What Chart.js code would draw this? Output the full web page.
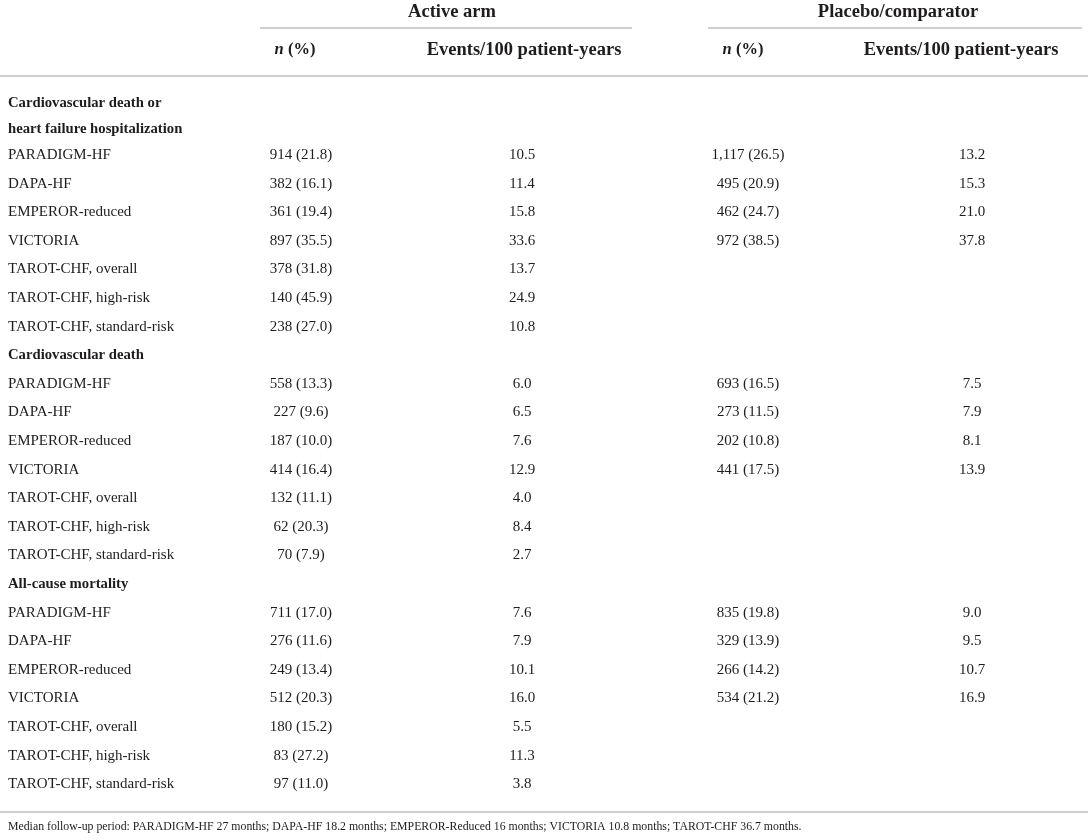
<!DOCTYPE html>
<html>
<head>
<meta charset="utf-8">
<title>Event rates by trial</title>
<script src="https://cdn.jsdelivr.net/npm/chart.js@4.4.1/dist/chart.umd.min.js"></script>
<style>
  html, body { margin: 0; padding: 0; background: #fff; }
  #wrap { width: 1088px; height: 840px; }
</style>
</head>
<body>
<div id="wrap"><canvas id="tableChart" width="1088" height="840"></canvas></div>
<script>
const trials = ['PARADIGM-HF', 'DAPA-HF', 'EMPEROR-reduced', 'VICTORIA',
                'TAROT-CHF, overall', 'TAROT-CHF, high-risk', 'TAROT-CHF, standard-risk'];

const sectionTitles = [
    ['Cardiovascular death or', 'heart failure hospitalization'],
    ['Cardiovascular death'],
    ['All-cause mortality']
];

// cardiovascular death or HF hospitalization
const activeN1 = [914, 382, 361, 897, 378, 140, 238];
const activePct1 = [21.8, 16.1, 19.4, 35.5, 31.8, 45.9, 27.0];
const activeRate1 = [10.5, 11.4, 15.8, 33.6, 13.7, 24.9, 10.8];
const placeboN1 = [1117, 495, 462, 972];
const placeboPct1 = [26.5, 20.9, 24.7, 38.5];
const placeboRate1 = [13.2, 15.3, 21.0, 37.8];

// cardiovascular death
const activeN2 = [558, 227, 187, 414, 132, 62, 70];
const activePct2 = [13.3, 9.6, 10.0, 16.4, 11.1, 20.3, 7.9];
const activeRate2 = [6.0, 6.5, 7.6, 12.9, 4.0, 8.4, 2.7];
const placeboN2 = [693, 273, 202, 441];
const placeboPct2 = [16.5, 11.5, 10.8, 17.5];
const placeboRate2 = [7.5, 7.9, 8.1, 13.9];

// all-cause mortality
const activeN3 = [711, 276, 249, 512, 180, 83, 97];
const activePct3 = [17.0, 11.6, 13.4, 20.3, 15.2, 27.2, 11.0];
const activeRate3 = [7.6, 7.9, 10.1, 16.0, 5.5, 11.3, 3.8];
const placeboN3 = [835, 329, 266, 534];
const placeboPct3 = [19.8, 13.9, 14.2, 21.2];
const placeboRate3 = [9.0, 9.5, 10.7, 16.9];

const groupHeaders = ['Active arm', 'Placebo/comparator'];
const rateHeader = 'Events/100 patient-years';
const footnote = 'Median follow-up period: PARADIGM-HF 27 months; DAPA-HF 18.2 months; ' +
    'EMPEROR-Reduced 16 months; VICTORIA 10.8 months; TAROT-CHF 36.7 months.';

// --- layout (x in canvas px, y in row units) ---
const FONT = '"Liberation Serif", "DejaVu Serif", serif';
const TEXT = '#1f1c1d';
const RULE = '#cfcfcf';
const colX = { label: 8, aN: 301, aR: 522, pN: 748, pR: 972 };
const Y_GROUP = -3.0, Y_SUB = -1.67, Y_RULE1 = -2.44, Y_RULE2 = -0.76;

function fmtN(n, p) {
    return n.toLocaleString('en-US') + ' (' + p.toFixed(1) + ')';
}

// build the row list
const sectionData = [
    [activeN1, activePct1, activeRate1, placeboN1, placeboPct1, placeboRate1],
    [activeN2, activePct2, activeRate2, placeboN2, placeboPct2, placeboRate2],
    [activeN3, activePct3, activeRate3, placeboN3, placeboPct3, placeboRate3]
];
const labelPts = [], aNPts = [], aRPts = [], pNPts = [], pRPts = [];
let row = 0;
sectionData.forEach(function(sec, s) {
    const lines = sectionTitles[s];
    lines.forEach(function(t, k) {
        // wrapped titles sit a little tighter than regular rows
        const yv = lines.length > 1 ? row + 0.18 - k * 0.08 : row;
        labelPts.push({ x: colX.label, y: yv, text: t, bold: true });
        row++;
    });
    trials.forEach(function(name, i) {
        labelPts.push({ x: colX.label, y: row, text: name });
        aNPts.push({ x: colX.aN, y: row, text: fmtN(sec[0][i], sec[1][i]) });
        aRPts.push({ x: colX.aR, y: row, text: sec[2][i].toFixed(1) });
        if (i < sec[3].length) {
            pNPts.push({ x: colX.pN, y: row, text: fmtN(sec[3][i], sec[4][i]) });
            pRPts.push({ x: colX.pR, y: row, text: sec[5][i].toFixed(1) });
        }
        row++;
    });
});
const lastRow = row - 1;

function ds(pts, align) {
    return { data: pts, align: align, pointRadius: 0, pointHoverRadius: 0, showLine: false };
}

// draws the cell texts at the points the scales placed, plus header and rules
const tablePlugin = {
    id: 'tablePlugin',
    afterDatasetsDraw(chart) {
        const ctx = chart.ctx;
        const xs = chart.scales.x, ys = chart.scales.y;
        ctx.save();
        ctx.fillStyle = TEXT;
        ctx.textBaseline = 'middle';

        chart.data.datasets.forEach(function(d, di) {
            const meta = chart.getDatasetMeta(di);
            ctx.textAlign = d.align;
            meta.data.forEach(function(el, i) {
                const p = d.data[i];
                ctx.font = p.bold ? 'bold 14.7px ' + FONT : '15px ' + FONT;
                ctx.fillText(p.text, el.x, el.y);
            });
        });

        // rules
        ctx.strokeStyle = RULE;
        ctx.lineWidth = 2;
        function rule(x0, x1, yv) {
            const y = Math.round(ys.getPixelForValue(yv));
            ctx.beginPath();
            ctx.moveTo(xs.getPixelForValue(x0), y);
            ctx.lineTo(xs.getPixelForValue(x1), y);
            ctx.stroke();
        }
        rule(260, 632, Y_RULE1);
        rule(708, 1082, Y_RULE1);
        rule(0, 1088, Y_RULE2);
        rule(0, 1088, lastRow + 0.97);

        // group headers
        ctx.font = 'bold 18.5px ' + FONT;
        ctx.textAlign = 'center';
        ctx.fillText(groupHeaders[0], xs.getPixelForValue(452), ys.getPixelForValue(Y_GROUP));
        ctx.fillText(groupHeaders[1], xs.getPixelForValue(898), ys.getPixelForValue(Y_GROUP));

        // sub headers
        const ySub = ys.getPixelForValue(Y_SUB);
        ctx.fillText(rateHeader, xs.getPixelForValue(524), ySub);
        ctx.fillText(rateHeader, xs.getPixelForValue(961), ySub);
        [295, 743].forEach(function(cx) {
            ctx.font = 'bold italic 16.5px ' + FONT;
            const wN = ctx.measureText('n').width;
            ctx.font = 'bold 16.5px ' + FONT;
            const wP = ctx.measureText(' (%)').width;
            const x0 = xs.getPixelForValue(cx) - (wN + wP) / 2;
            ctx.textAlign = 'left';
            ctx.font = 'bold italic 16.5px ' + FONT;
            ctx.fillText('n', x0, ySub);
            ctx.font = 'bold 16.5px ' + FONT;
            ctx.fillText(' (%)', x0 + wN, ySub);
        });

        // footnote
        ctx.textAlign = 'left';
        ctx.font = '11.8px ' + FONT;
        ctx.fillText(footnote, xs.getPixelForValue(8), ys.getPixelForValue(lastRow + 1.5));
        ctx.restore();
    }
};

const ctx = document.getElementById('tableChart').getContext('2d');
const chart = new Chart(ctx, {
    type: 'scatter',
    data: {
        datasets: [
            ds(labelPts, 'left'),
            ds(aNPts, 'center'),
            ds(aRPts, 'center'),
            ds(pNPts, 'center'),
            ds(pRPts, 'center')
        ]
    },
    options: {
        responsive: false,
        animation: false,
        events: [],
        layout: { padding: 0 },
        scales: {
            x: { type: 'linear', min: 0, max: 1088, display: false },
            y: { type: 'linear', min: -3.42, max: 25.95, reverse: true, display: false }
        },
        plugins: {
            legend: { display: false },
            tooltip: { enabled: false }
        }
    },
    plugins: [tablePlugin]
});
</script>
</body>
</html>
